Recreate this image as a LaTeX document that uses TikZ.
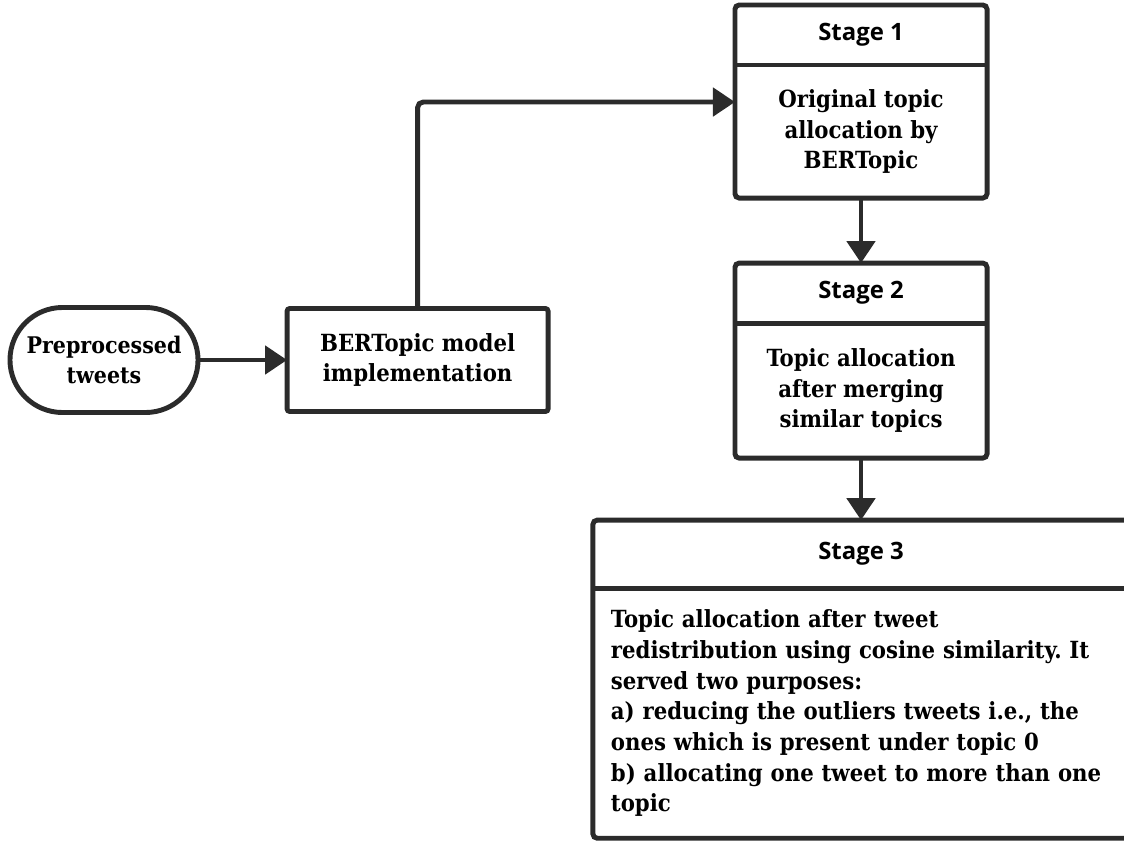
\documentclass[tikz,border=0pt]{standalone}
\usepackage{fontspec}
\setmainfont{DejaVu Serif Condensed}
\newfontfamily\cabfont{Open Sans}
\usetikzlibrary{positioning,arrows.meta,shapes.misc}
\definecolor{borde}{HTML}{2B2B2B}
\tikzstyle{Terminal}=[rounded rectangle, draw=borde, line width=3.5pt, minimum width=4.7cm, minimum height=2.625cm, inner sep=0pt, outer sep=0pt, align=center, font=\fontsize{16.3}{21}\selectfont\bfseries]
\tikzstyle{Proceso}=[rectangle, rounded corners=2pt, draw=borde, line width=3.5pt, minimum width=6.525cm, minimum height=2.575cm, inner sep=0pt, outer sep=0pt, align=center, font=\fontsize{16.8}{21.5}\selectfont\bfseries]
\tikzstyle{Cabecera}=[rectangle, minimum width=6.3cm, minimum height=1.5cm, inner sep=0pt, outer sep=0pt, font=\fontsize{17}{20}\cabfont\bfseries]
\tikzstyle{Cuerpo}=[rectangle, minimum width=6.3cm, inner sep=0pt, outer sep=0pt, align=center, font=\fontsize{16.8}{21.8}\selectfont\bfseries]
\tikzstyle{Caja}=[draw=borde, line width=3.5pt, rounded corners=3pt]
\tikzstyle{Flecha}=[-{Triangle[length=0.55cm,width=0.7cm]}, draw=borde, line width=3.5pt]

\begin{document}
\frenchspacing
\begin{tikzpicture}[x=0.025cm,y=-0.025cm]
	\useasboundingbox (0,0) rectangle (1124,841);
	%Nodos
	\node[Terminal]		(tweets)	at (104,360)						{Preprocessed\\tweets};
	\node[Proceso]		(bertopic)	[right=2.225cm of tweets]			{BERTopic model\\implementation};

	\node[Cabecera]		(head1)		at (861,35)							{Stage 1};
	\node[Cuerpo, minimum height=3.325cm]	(body1)	[below=0cm of head1]	{Original topic\\allocation by\\BERTopic};

	\node[Cabecera]		(head2)		[below=1.625cm of body1]			{Stage 2};
	\node[Cuerpo, minimum height=3.375cm]	(body2)	[below=0cm of head2]	{Topic allocation\\after merging\\similar topics};

	\node[Cabecera, minimum width=13.4cm, minimum height=1.7cm]	(head3)	[below=1.55cm of body2]	{Stage 3};
	\node[Cuerpo, minimum width=13.4cm, minimum height=6.25cm, text width=12.5cm, align=left]	(body3)	[below=0cm of head3]
		{Topic allocation after tweet\\redistribution using cosine similarity. It\\served two purposes:\\a) reducing the outliers tweets i.e., the\\ones which is present under topic 0\\b) allocating one tweet to more than one\\topic};

	%Cajas
	\draw[Caja] (head1.north west) rectangle (body1.south east);
	\draw[Caja] (head1.south west) -- (head1.south east);
	\draw[Caja] (head2.north west) rectangle (body2.south east);
	\draw[Caja] (head2.south west) -- (head2.south east);
	\draw[Caja] (head3.north west) rectangle (body3.south east);
	\draw[Caja] (head3.south west) -- (head3.south east);

	%Lineas
	\draw[Flecha] (tweets.east) -- (bertopic.west);
	\draw[Flecha, rounded corners=4pt] (bertopic.north) |- ([yshift=-0.925cm]body1.north west);
	\draw[Flecha] (body1.south) -- (head2.north);
	\draw[Flecha] (body2.south) -- (head3.north);
\end{tikzpicture}
\end{document}
